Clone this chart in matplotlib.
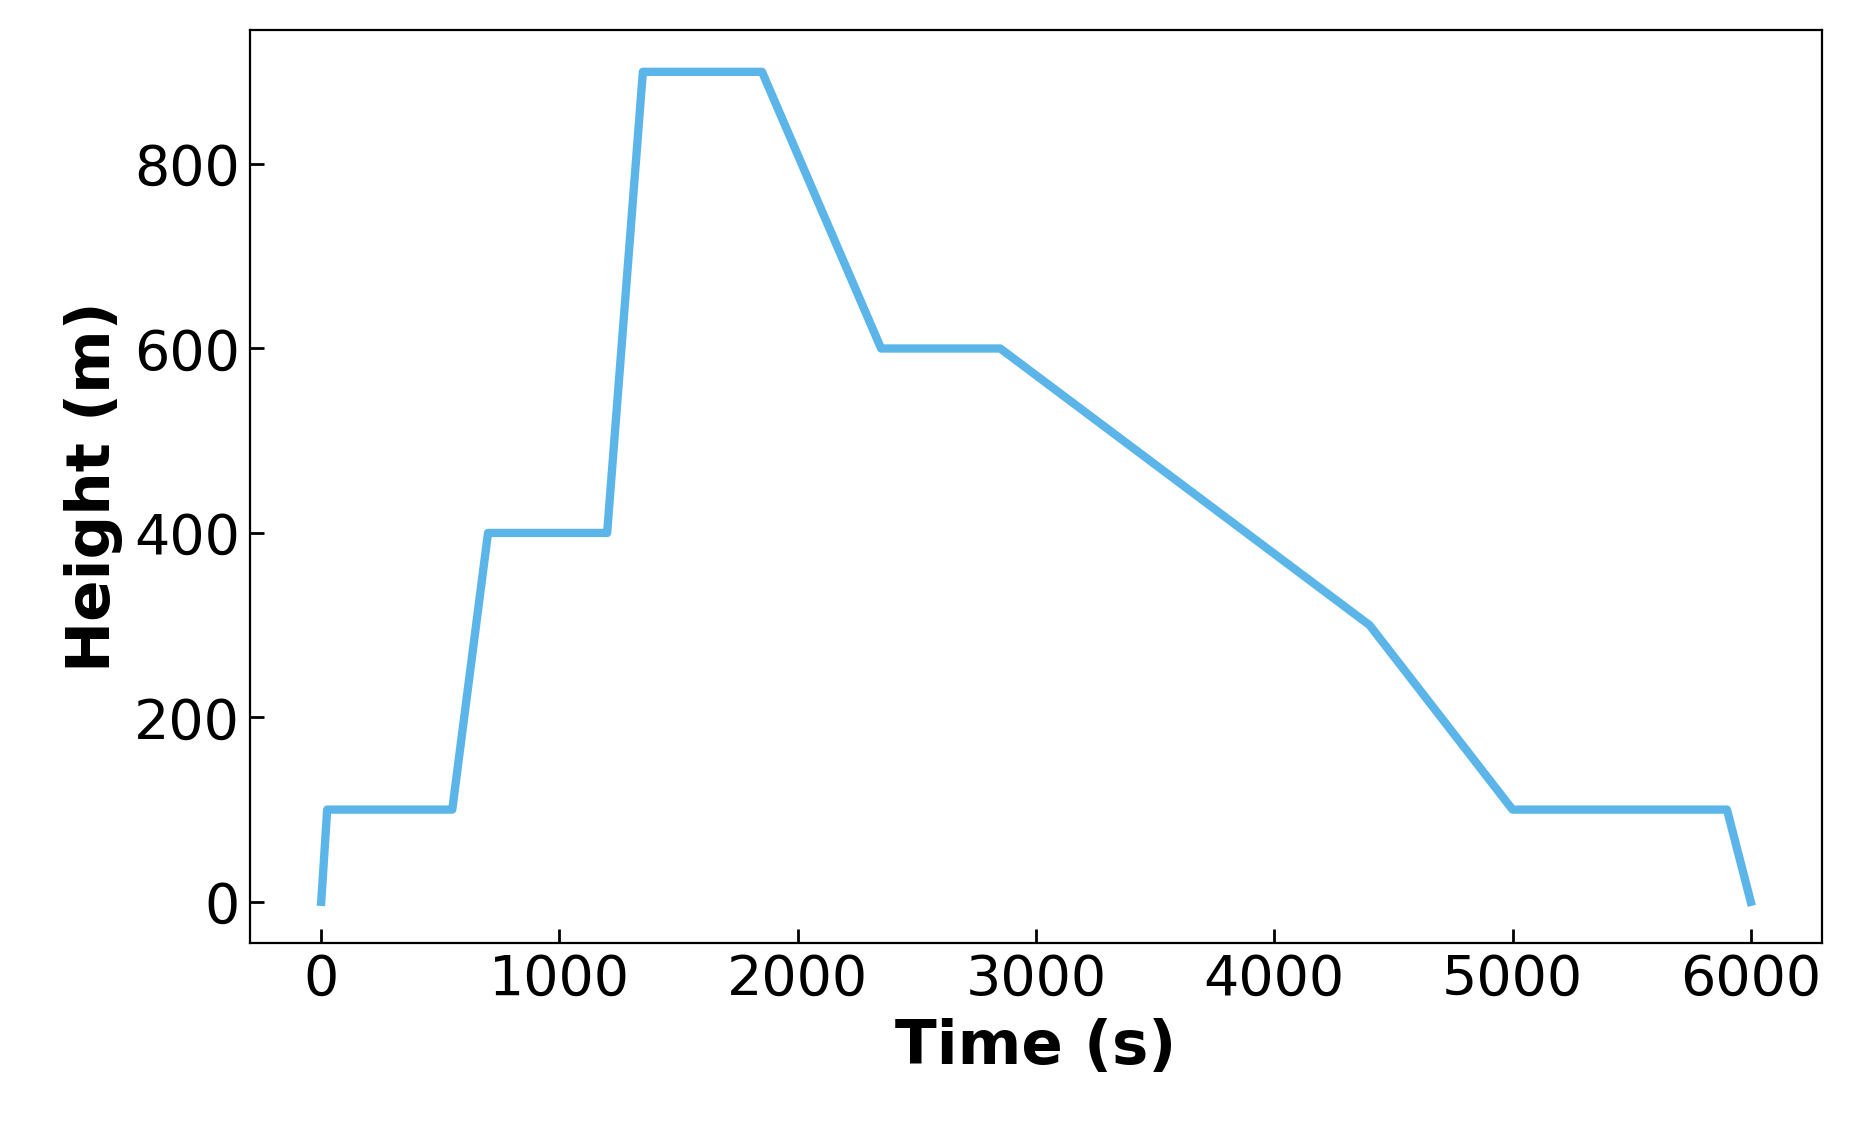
import matplotlib
matplotlib.use("Agg")
import matplotlib.pyplot as plt

# flight profile
time = [0, 25, 550, 700, 1200, 1350, 1850, 2350, 2850, 4400, 5000, 5900, 6000]
height = [0, 100, 100, 400, 400, 900, 900, 600, 600, 300, 100, 100, 0]

fig = plt.figure(figsize=(9.25, 5.615), dpi=200)
ax = fig.add_axes([0.135, 0.16, 0.85, 0.813])
ax.plot(time, height, color='#5BB5E8', lw=3)

ax.set_xlim(-300, 6300)
ax.set_ylim(-45, 945)
ax.set_xticks(range(0, 6001, 1000))
ax.set_yticks(range(0, 801, 200))
ax.tick_params(direction='in', labelsize=20, length=5, width=1)
ax.set_xlabel('Time (s)', fontsize=22, fontweight='bold')
ax.set_ylabel('Height (m)', fontsize=22, fontweight='bold')

fig.savefig('out.png', dpi=200)
